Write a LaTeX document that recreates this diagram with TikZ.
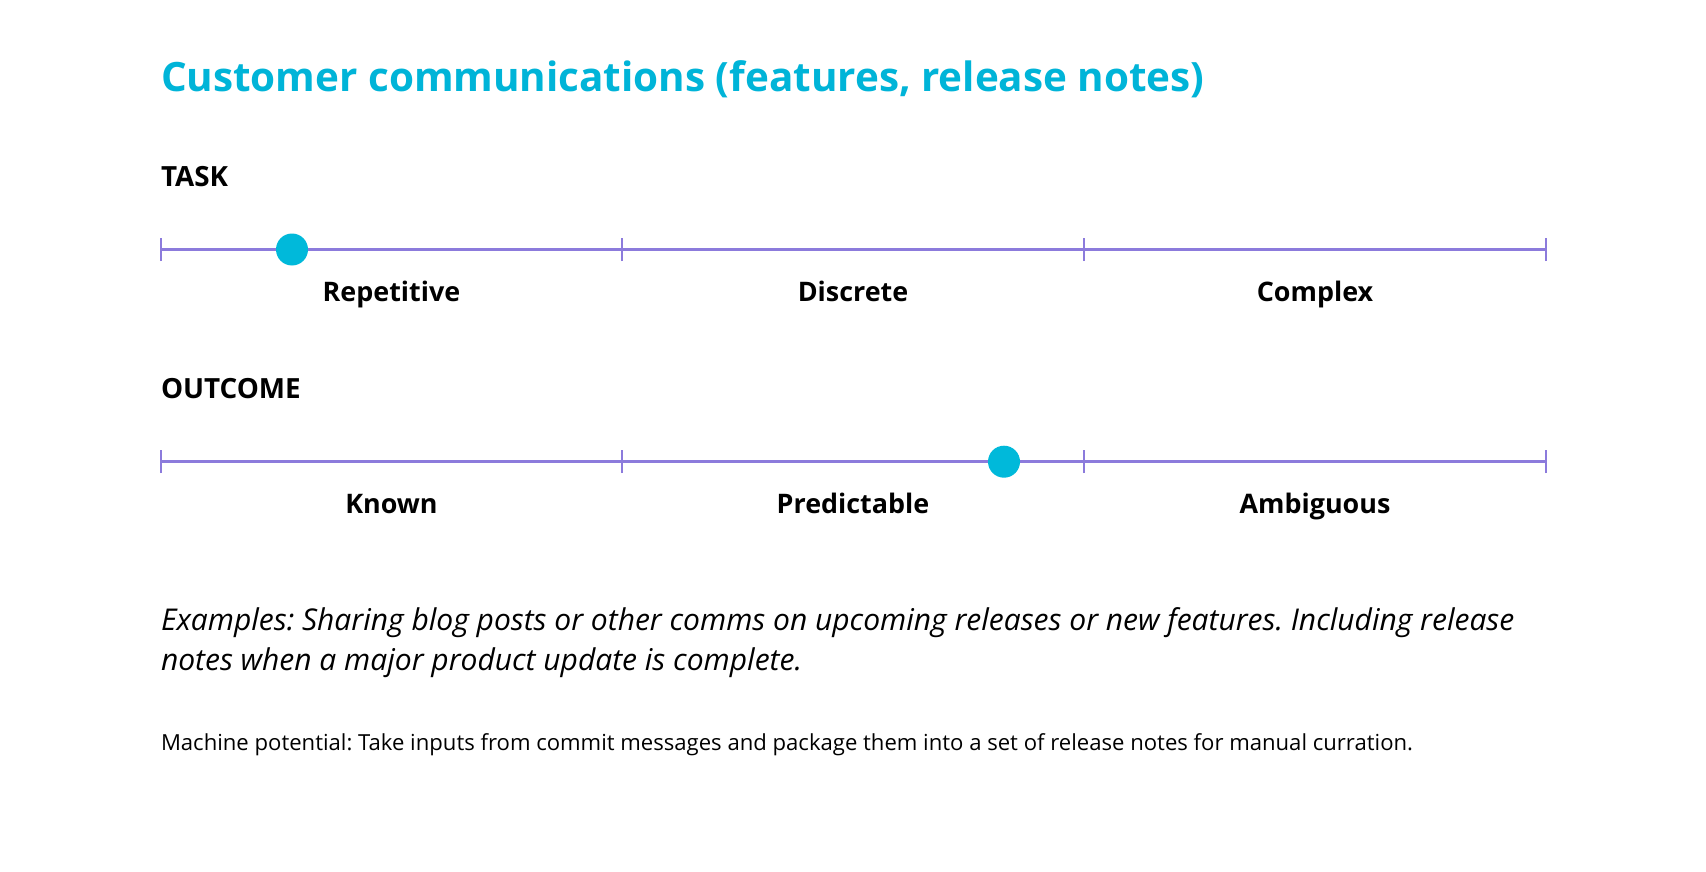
\documentclass[tikz,border=0pt]{standalone}
\usepackage{fontspec}
\setmainfont{Open Sans}
\frenchspacing
\definecolor{cyanT}{HTML}{00B4D8}
\definecolor{dotC}{HTML}{00B9DA}
\definecolor{lineC}{HTML}{8C7BDC}
\begin{document}
\begin{tikzpicture}[x=1pt,y=-1pt,
  axisline/.style={draw=lineC,line width=3pt},
  tickmark/.style={draw=lineC,line width=2.5pt},
  marker/.style={circle,fill=dotC,minimum size=32pt,inner sep=0pt},
  scalelabel/.style={anchor=base,font=\fontsize{26.9}{32}\selectfont\bfseries},
  heading/.style={anchor=base west,font=\fontsize{27.8}{32}\selectfont\bfseries},
  every node/.style={inner sep=0pt,outer sep=0pt}]
\useasboundingbox[fill=white] (0,0) rectangle (1706,872);
\node[anchor=base west,text=cyanT,font=\fontsize{40.4}{48}\selectfont\bfseries] (title) at (161,92) {Customer communications (features, release notes)};
\node[heading] (task) at (161,186) {TASK};
% task axis
\coordinate (t0) at (161,249.5);
\coordinate (t1) at (622,249.5);
\coordinate (t2) at (1084,249.5);
\coordinate (t3) at (1546,249.5);
\draw[axisline] (t0) -- (t3);
\foreach \p in {t0,t1,t2,t3}{\draw[tickmark] ([yshift=-11.5pt]\p) -- ([yshift=11.5pt]\p);}
\node[marker] (tdot) at (292,249.5) {};
\node[scalelabel] (rep) at (391.5,301.7) {Repetitive};
\node[scalelabel] (dis) at (853,301.7) {Discrete};
\node[scalelabel] (com) at (1315,301.7) {Complex};
\node[heading] (outcome) at (161,398) {OUTCOME};
% outcome axis
\coordinate (o0) at (161,461.7);
\coordinate (o1) at (622,461.7);
\coordinate (o2) at (1084,461.7);
\coordinate (o3) at (1546,461.7);
\draw[axisline] (o0) -- (o3);
\foreach \p in {o0,o1,o2,o3}{\draw[tickmark] ([yshift=-11.5pt]\p) -- ([yshift=11.5pt]\p);}
\node[marker] (odot) at (1004,461.7) {};
\node[scalelabel] (kno) at (391.5,513) {Known};
\node[scalelabel] (pre) at (853,513) {Predictable};
\node[scalelabel] (amb) at (1315,513) {Ambiguous};
\node[anchor=base west,font=\fontsize{30}{39.5}\selectfont\itshape,align=left] (ex) at (161,670) {Examples: Sharing blog posts or other comms on upcoming releases or new features. Including release\\notes when a major product update is complete.};
\node[anchor=base west,font=\fontsize{22.1}{26}\selectfont] (mach) at (161,750) {Machine potential: Take inputs from commit messages and package them into a set of release notes for manual curration.};
\end{tikzpicture}
\end{document}
